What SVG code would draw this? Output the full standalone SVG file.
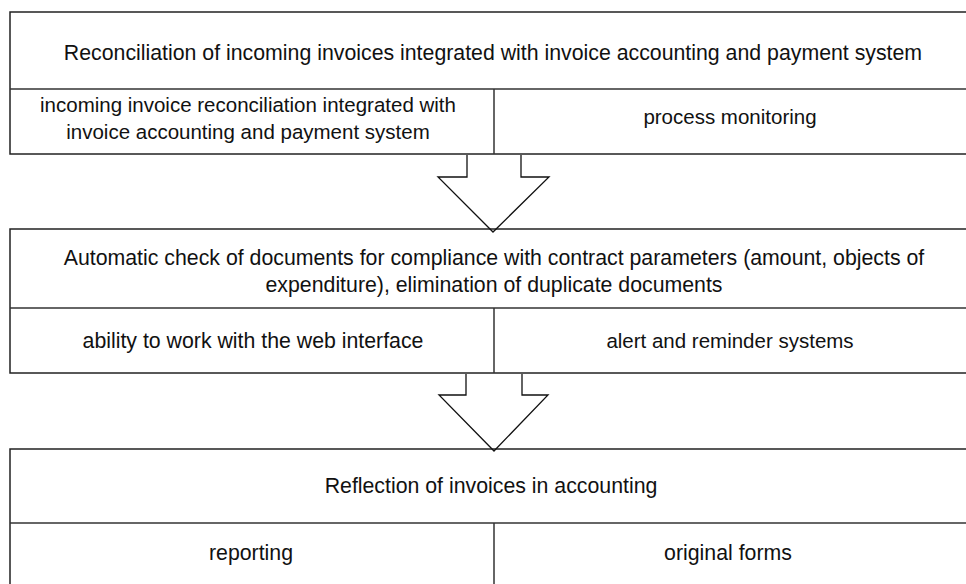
<svg xmlns="http://www.w3.org/2000/svg" width="966" height="584" viewBox="0 0 966 584">
<style>
.box{fill:#fff;stroke:#222;stroke-width:1.5}
.div{fill:none;stroke:#333;stroke-width:1.5}
.arr{fill:none;stroke:#111;stroke-width:1.3;stroke-linejoin:miter}
text{font-family:"Liberation Sans",Arial,sans-serif;font-size:20.5px;fill:#111;text-anchor:middle}
.h{font-size:21.3px}
</style>
<rect width="966" height="584" fill="#fff"/>
<g id="block1">
<rect class="box" x="10" y="12" width="965" height="142"/>
<line class="div" x1="10" y1="89" x2="975" y2="89"/>
<line class="div" x1="494" y1="89" x2="494" y2="154"/>
<text class="h" x="493" y="60">Reconciliation of incoming invoices integrated with invoice accounting and payment system</text>
<text x="248" y="112">incoming invoice reconciliation integrated with</text>
<text x="248" y="139">invoice accounting and payment system</text>
<text x="730" y="124">process monitoring</text>
</g>
<g id="block2">
<rect class="box" x="10" y="229" width="965" height="144"/>
<line class="div" x1="10" y1="308" x2="975" y2="308"/>
<line class="div" x1="494" y1="308" x2="494" y2="373"/>
<text class="h" x="494" y="265">Automatic check of documents for compliance with contract parameters (amount, objects of</text>
<text class="h" x="494" y="292">expenditure), elimination of duplicate documents</text>
<text class="h" x="253" y="348">ability to work with the web interface</text>
<text x="730" y="348">alert and reminder systems</text>
</g>
<g id="block3">
<rect class="box" x="10" y="449" width="965" height="150"/>
<line class="div" x1="10" y1="523" x2="975" y2="523"/>
<line class="div" x1="494" y1="523" x2="494" y2="600"/>
<text class="h" x="491" y="493">Reflection of invoices in accounting</text>
<text class="h" x="251" y="560">reporting</text>
<text class="h" x="728" y="560">original forms</text>
</g>
<g id="connectors">
<path class="arr" d="M467,155 V177 H438 L493,232 L549,177 H521 V155"/>
<path class="arr" d="M466,374 V395 H439 L494,451 L548,395 H522 V374"/>
</g>
</svg>
